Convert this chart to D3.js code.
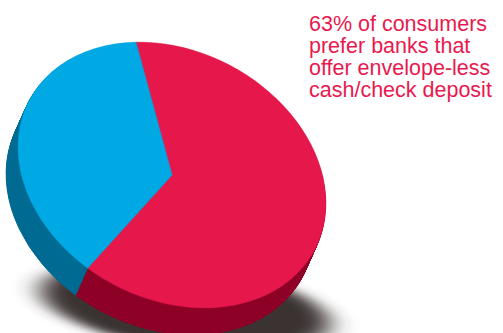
<!DOCTYPE html>
<html>
<head>
<meta charset="utf-8">
<script src="https://cdn.jsdelivr.net/npm/d3@7"></script>
<style>
  html, body { margin: 0; padding: 0; background: #fff; overflow: hidden; }
</style>
</head>
<body>
<div id="viz"></div>
<script>
// data
var categories = ["Prefer envelope-less deposit", "Other"];
var values = [63, 37];
var topColors = ["#e5174b", "#00a9e3"];
var sideColors = ["#8e0027", "#006b93"];
var noteLines = ["63% of consumers", "prefer banks that", "offer envelope-less", "cash/check deposit"];

var width = 503, height = 333;
var cx = 172, cy = 175;      // centre of top face
var tilt = 27.5;             // rotation of the ellipse
var rx = 161, ry = 124;      // semi axes of the top face
var R = 100;
var depthX = -12, depthY = 27; // extrusion
var steps = 30;
var start = -35.4 * Math.PI / 180;

var svg = d3.select("#viz")
  .append("svg")
  .attr("width", width)
  .attr("height", height);

var defs = svg.append("defs");
defs.append("filter")
  .attr("id", "blur")
  .attr("x", "-50%").attr("y", "-50%")
  .attr("width", "200%").attr("height", "200%")
  .append("feGaussianBlur")
  .attr("stdDeviation", 9);

var pie = d3.pie().sort(null).startAngle(start).endAngle(start + 2 * Math.PI);
var arcs = pie(values);
var arc = d3.arc().innerRadius(0).outerRadius(R);

function ellipseTransform(dx, dy) {
  return "translate(" + (cx + dx) + "," + (cy + dy) + ") rotate(" + tilt + ") scale(" + (rx / R) + "," + (ry / R) + ")";
}

// shadow on the ground
svg.append("path")
  .attr("d", arc({startAngle: 0, endAngle: 2 * Math.PI}))
  .attr("transform", "translate(185,307) rotate(7) scale(1.45,0.42)")
  .attr("fill", "#3a3030")
  .attr("filter", "url(#blur)");

// side of the pie: stacked layers
for (var i = steps; i >= 1; i--) {
  var t = i / steps;
  svg.append("g")
    .attr("transform", ellipseTransform(depthX * t, depthY * t))
    .selectAll("path")
    .data(arcs)
    .enter()
    .append("path")
    .attr("d", arc)
    .attr("fill", function(d, j) { return sideColors[j]; })
    .attr("stroke", function(d, j) { return sideColors[j]; })
    .attr("stroke-width", 1)
    .attr("vector-effect", "non-scaling-stroke");
}

// top face
svg.append("g")
  .attr("transform", ellipseTransform(0, 0))
  .selectAll("path")
  .data(arcs)
  .enter()
  .append("path")
  .attr("d", arc)
  .attr("fill", function(d, j) { return topColors[j]; })
  .attr("stroke", function(d, j) { return topColors[j]; })
  .attr("stroke-width", 0.6)
  .attr("vector-effect", "non-scaling-stroke");

// note, one text per line
svg.selectAll("text.note")
  .data(noteLines)
  .enter()
  .append("text")
  .attr("class", "note")
  .attr("x", 309)
  .attr("y", function(d, i) { return 31 + i * 22; })
  .attr("font-family", "Liberation Sans, Arial, sans-serif")
  .attr("font-size", 21.5)
  .attr("fill", "#e8194f")
  .text(function(d) { return d; });
</script>
</body>
</html>
